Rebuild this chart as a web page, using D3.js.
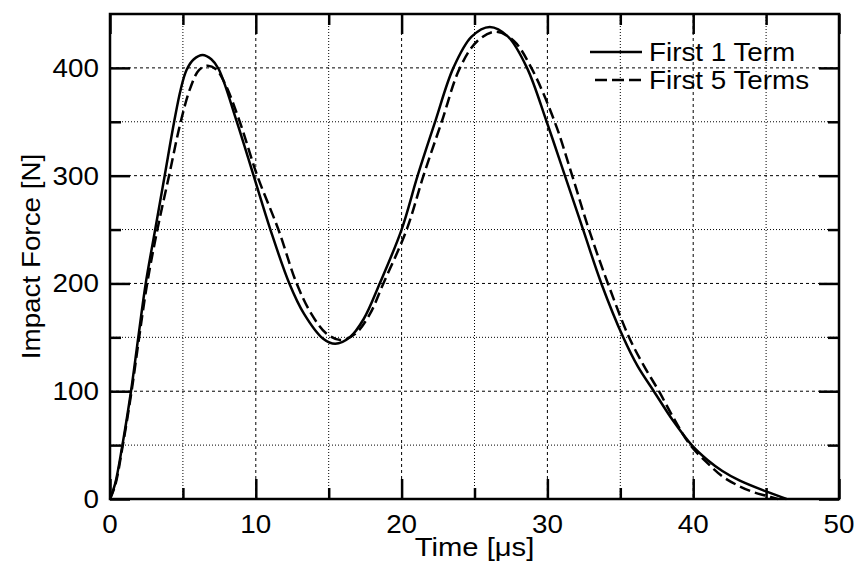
<!DOCTYPE html>
<html>
<head>
<meta charset="utf-8">
<script src="https://cdn.jsdelivr.net/npm/d3@7"></script>
<style>
  body { margin: 0; background: #fff; }
  text { font-family: "Liberation Sans", Arial, sans-serif; fill: #000; font-size: 26px; }
</style>
</head>
<body>
<div id="chartContainer"></div>
<script>
// time [us] and force [N]
var timeOne  = [0, 0.35, 0.85, 1.44, 1.94, 2.45, 3.1, 3.75, 4.4, 4.85, 5.25, 5.75, 6.35, 6.95, 7.45, 8.7, 9.85, 11.0, 12.3, 13.3, 14.6, 15.45, 16.45, 17.4, 18.5, 20.0, 21.1, 22.3, 23.55, 24.8, 26.05, 27.3, 28.6, 29.95, 31.2, 32.45, 33.7, 35.2, 36.2, 37.3, 38.6, 39.9, 41.0, 42.0, 43.2, 45.0, 46.4];
var forceOne = [0, 14, 50, 100, 150, 200, 250, 300, 350, 380, 398, 408, 412, 408, 399, 350, 300, 250, 200, 172, 149, 144, 150, 167, 200, 250, 300, 350, 400, 429, 438, 429, 400, 350, 300, 250, 200, 150, 123, 100, 73, 50, 36, 26, 17, 7, 0];

var timeFive  = [0, 0.36, 0.88, 1.48, 2.0, 2.55, 3.25, 4.05, 4.85, 5.5, 6.1, 6.68, 7.25, 7.9, 8.9, 10.1, 11.55, 12.8, 13.8, 14.8, 15.8, 16.8, 17.8, 18.75, 20.35, 21.5, 22.75, 24.0, 25.2, 26.45, 27.7, 28.9, 30.5, 31.7, 32.85, 34.15, 35.6, 36.6, 37.65, 38.7, 39.8, 41.0, 42.0, 43.0, 44.0, 45.0, 45.8];
var forceFive = [0, 13, 50, 100, 150, 200, 250, 300, 350, 381, 398, 402, 399, 385, 350, 300, 250, 200, 172, 154, 147.5, 153, 171, 200, 250, 300, 350, 400, 425, 433.5, 425, 400, 350, 300, 250, 200, 150, 124, 100, 74, 50, 33, 21, 13, 7, 3, 0];

var xMajor = [0, 10, 20, 30, 40, 50];
var xMinor = [5, 15, 25, 35, 45];
var yMajor = [0, 100, 200, 300, 400];
var yMinor = [50, 150, 250, 350];

var legendNames = ["First 1 Term", "First 5 Terms"];

var margin = {top: 14, right: 17, bottom: 66, left: 110},
    width = 856 - margin.left - margin.right,
    height = 565 - margin.top - margin.bottom;

// the lettering in the original is a bit wider than Arial
var stretch = 1.07;

var svg = d3.select("#chartContainer")
  .append("svg")
    .attr("width", 856)
    .attr("height", 565)
  .append("g")
    .attr("transform", "translate(" + margin.left + "," + margin.top + ")");

var x = d3.scaleLinear().domain([0, 50]).range([0, width]);
var y = d3.scaleLinear().domain([0, 450]).range([height, 0]);

// grid: dashed on major, dotted on minor
svg.selectAll(".gx").data(xMajor.concat(xMinor)).enter().append("line")
  .attr("x1", d => x(d)).attr("x2", d => x(d))
  .attr("y1", 0).attr("y2", height)
  .attr("stroke", "#000").attr("stroke-width", 1)
  .attr("stroke-dasharray", d => d % 10 == 0 ? "3,3" : "1,2");
svg.selectAll(".gy").data(yMajor.concat(yMinor)).enter().append("line")
  .attr("y1", d => y(d)).attr("y2", d => y(d))
  .attr("x1", 0).attr("x2", width)
  .attr("stroke", "#000").attr("stroke-width", 1)
  .attr("stroke-dasharray", d => d % 100 == 0 ? "3,3" : "1,2");

// ticks, inward on all four sides
function tickLen(major) { return major ? 20 : 11; }
[[xMajor, true], [xMinor, false]].forEach(function(p) {
  svg.append("g").call(d3.axisBottom(x).tickValues(p[0]).tickSize(-tickLen(p[1])).tickFormat(""))
    .attr("transform", "translate(0," + height + ")");
  svg.append("g").call(d3.axisTop(x).tickValues(p[0]).tickSize(-tickLen(p[1])).tickFormat(""));
});
[[yMajor, true], [yMinor, false]].forEach(function(p) {
  svg.append("g").call(d3.axisLeft(y).tickValues(p[0]).tickSize(-tickLen(p[1])).tickFormat(""));
  svg.append("g").call(d3.axisRight(y).tickValues(p[0]).tickSize(-tickLen(p[1])).tickFormat(""))
    .attr("transform", "translate(" + width + ",0)");
});
svg.selectAll(".domain").remove();
svg.selectAll(".tick line").attr("stroke", "#000").attr("stroke-width", 2.5);

// tick labels
svg.selectAll(".xl").data(xMajor).enter().append("text")
  .attr("transform", d => "translate(" + x(d) + "," + (height + 34) + ") scale(" + stretch + ",1)")
  .attr("text-anchor", "middle")
  .text(d => d);
svg.selectAll(".yl").data(yMajor).enter().append("text")
  .attr("transform", d => "translate(-11," + (y(d) + 9) + ") scale(" + stretch + ",1)")
  .attr("text-anchor", "end")
  .text(d => d);

// frame
svg.append("rect")
  .attr("width", width).attr("height", height)
  .attr("fill", "none").attr("stroke", "#000").attr("stroke-width", 2.5);

// curves
var line = d3.line()
  .x(d => x(d[0]))
  .y(d => y(d[1]))
  .curve(d3.curveCatmullRom.alpha(0.5));

svg.append("path")
  .datum(d3.zip(timeOne, forceOne))
  .attr("fill", "none").attr("stroke", "#000").attr("stroke-width", 2.5)
  .attr("d", line);
svg.append("path")
  .datum(d3.zip(timeFive, forceFive))
  .attr("fill", "none").attr("stroke", "#000").attr("stroke-width", 2.5)
  .attr("stroke-dasharray", "11,5")
  .attr("d", line);

// legend
var legend = svg.selectAll(".leg").data(legendNames).enter().append("g")
  .attr("transform", (d, i) => "translate(" + (width - 249) + "," + (38 + i * 28) + ")");
legend.append("line")
  .attr("x1", (d, i) => i ? 5 : 0).attr("x2", 52)
  .attr("stroke", "#000").attr("stroke-width", 2.5)
  .attr("stroke-dasharray", (d, i) => i ? "12,5" : null);
legend.append("text")
  .attr("transform", "translate(59,9) scale(" + stretch + ",1)")
  .text(d => d);

// axis titles
svg.append("text")
  .attr("transform", "translate(" + (width / 2) + "," + (height + 57) + ") scale(" + (stretch * 1.05) + ",1)")
  .attr("text-anchor", "middle")
  .text("Time [\u03bcs]");
svg.append("text")
  .attr("transform", "translate(-70," + (height / 2) + ") rotate(-90) scale(" + stretch + ",1)")
  .attr("text-anchor", "middle")
  .text("Impact Force [N]");
</script>
</body>
</html>
